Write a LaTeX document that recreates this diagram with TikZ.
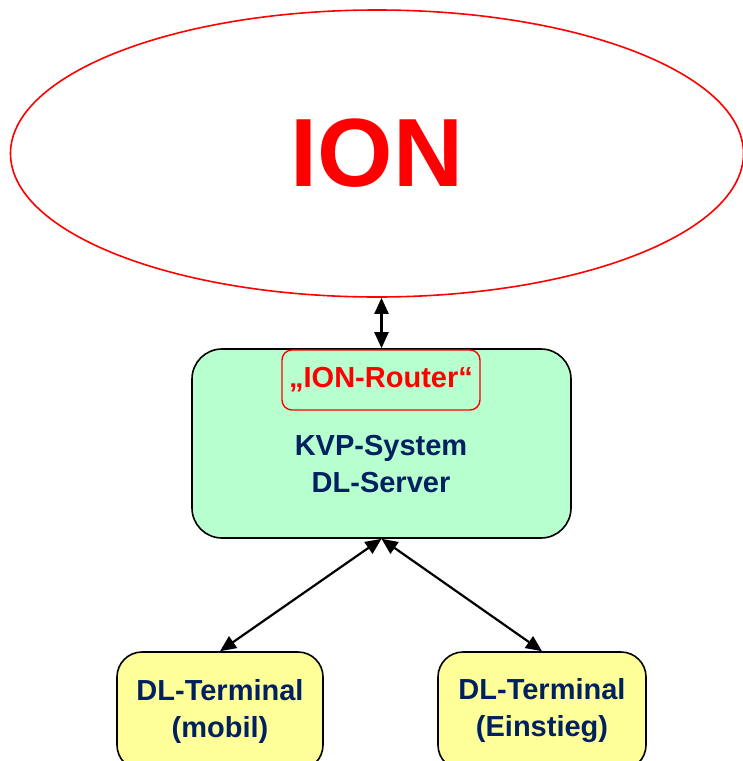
\documentclass[tikz,border=0pt]{standalone}
\usepackage{fontspec}
\setmainfont{Liberation Sans}
\usetikzlibrary{shapes.geometric,arrows.meta}
\definecolor{navy}{RGB}{0,32,96}
\definecolor{mint}{RGB}{184,255,208}
\definecolor{paleyellow}{RGB}{255,255,153}
\begin{document}
\begin{tikzpicture}[x=1pt,y=-1pt,
    label font/.style={font={\fontsize{29}{37}\selectfont\bfseries}},
    box/.style={draw=black,line width=1.6pt,align=center,label font,text=navy},
    link/.style={line width=2.2pt,{Triangle[length=16pt,width=14pt]}-{Triangle[length=16pt,width=14pt]}}]
    \useasboundingbox (0,0) rectangle (743,761);
    \node[ellipse, draw=red, line width=1.6pt, minimum width=733pt, minimum height=287pt,
          text=red, font={\fontsize{97}{97}\selectfont\bfseries}] (ion) at (377,153.5) {ION};
    \node[box, fill=mint, rounded corners=30pt, minimum width=379pt, minimum height=189pt] (server) at (381.5,443.5) {};
    \node[draw=red, line width=1.4pt, rounded corners=10pt, minimum width=198pt, minimum height=60pt,
          text=red, label font] (router) at (381,380) {„ION-Router“};
    \node[text=navy, align=center, label font] (kvp) at (381,464) {KVP-System\\DL-Server};
    \node[box, fill=paleyellow, rounded corners=25pt, minimum width=206pt, minimum height=118pt] (mobil) at (220,711) {DL-Terminal\\(mobil)};
    \node[box, fill=paleyellow, rounded corners=25pt, minimum width=208pt, minimum height=118pt] (einstieg) at (542,711) {DL-Terminal\\(Einstieg)};
    \draw[link] (ion.south -| server.north) -- (server.north);
    \draw[link] (server.south) -- (mobil.north);
    \draw[link] (server.south) -- (einstieg.north);
\end{tikzpicture}
\end{document}
